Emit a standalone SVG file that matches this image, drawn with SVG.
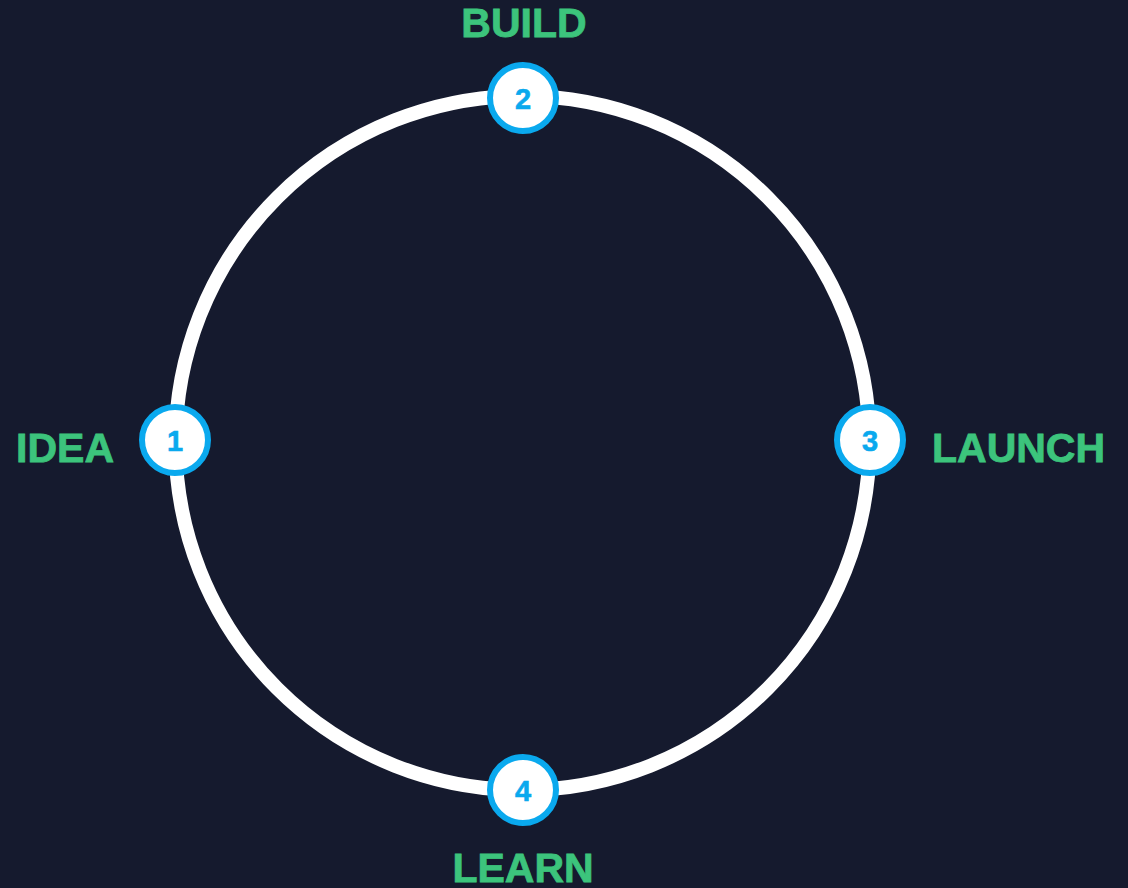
<svg xmlns="http://www.w3.org/2000/svg" width="1128" height="888" viewBox="0 0 1128 888">
<style>
.bg{fill:#151a2e}
.ring{fill:none;stroke:#ffffff;stroke-width:14}
.node{fill:#ffffff;stroke:#0aa9ee;stroke-width:6}
.num{font-family:"Liberation Sans",Arial,sans-serif;font-weight:700;font-size:29px;fill:#0aa9ee;stroke:#0aa9ee;stroke-width:0.6;text-anchor:middle}
.lbl{font-family:"Liberation Sans",Arial,sans-serif;font-weight:700;font-size:41px;fill:#3cc47c;stroke:#3cc47c;stroke-width:0.8}
</style>
<rect class="bg" x="0" y="0" width="1128" height="888"/>
<g id="connectors">
<circle class="ring" cx="522.5" cy="443" r="347"/>
</g>
<g id="node1">
<circle class="node" cx="175" cy="440" r="33"/>
<text class="num" x="175" y="450.5">1</text>
<text class="lbl" x="114" y="462" text-anchor="end">IDEA</text>
</g>
<g id="node2">
<circle class="node" cx="523" cy="98" r="33"/>
<text class="num" x="523" y="108.5">2</text>
<text class="lbl" x="524" y="37" text-anchor="middle">BUILD</text>
</g>
<g id="node3">
<circle class="node" cx="870" cy="440" r="33"/>
<text class="num" x="870" y="450.5">3</text>
<text class="lbl" x="932" y="462">LAUNCH</text>
</g>
<g id="node4">
<circle class="node" cx="523" cy="790" r="33"/>
<text class="num" x="523" y="800.5">4</text>
<text class="lbl" x="523" y="882" text-anchor="middle">LEARN</text>
</g>
</svg>
